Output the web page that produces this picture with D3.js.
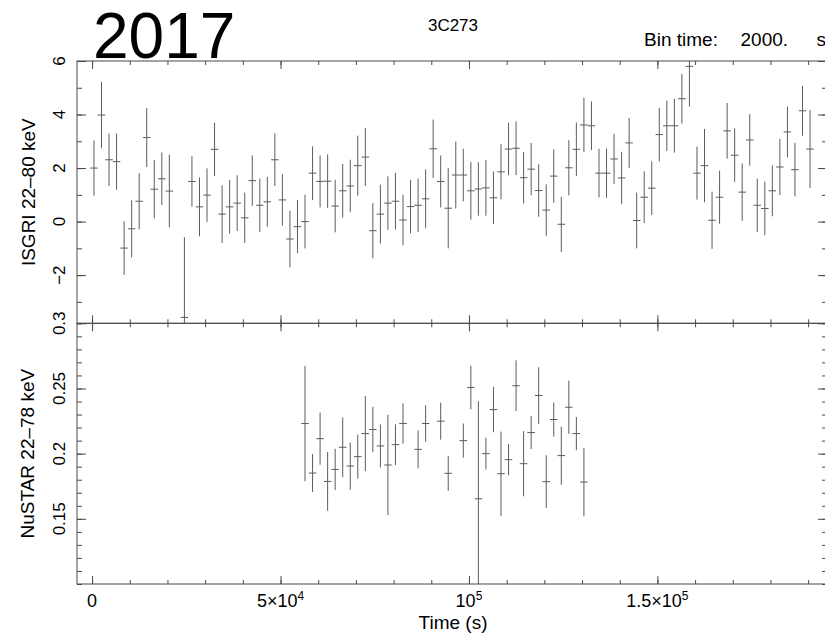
<!DOCTYPE html>
<html>
<head>
<meta charset="utf-8">
<script src="https://cdn.jsdelivr.net/npm/d3@7"></script>
<style>
  body { margin: 0; background: #fff; }
  text { font-family: "Liberation Sans", Arial, Helvetica, sans-serif; fill: #000; }
</style>
</head>
<body>
<svg id="chart" width="825" height="633"></svg>
<script>
    // ============ DATA (2000 s bins) ===========================================
    var isgriTime = [500, 2500, 4500, 6500, 8500, 10500, 12500, 14500, 16500, 18500, 20500,
        24500, 26500, 28500, 30500, 32500, 34500, 36500, 38500, 40500, 42500, 44500, 46500, 48500,
        50500, 52500, 54500, 56500, 58500, 60500, 62500, 64500, 66500, 68500, 70500, 72500, 74500,
        76500, 78500, 80500, 82500, 84500, 86500, 88500, 90500, 92500, 94500, 96500, 98500, 100500,
        102500, 104500, 106500, 108500, 110500, 112500, 114500, 116500, 118500, 120500, 122500,
        124500, 126500, 128500, 130500, 132500, 134500, 136500, 138500, 140500, 142500, 144500,
        146500, 148500, 150500, 152500, 154500, 156500, 158500, 160500, 162500, 164500, 166500,
        168500, 170500, 172500, 174500, 176500, 178500, 180500, 182500, 184500, 186500, 188500, 190500];
    var isgriRate = [2.0, 3.98, 2.31, 2.24, -0.99, -0.27, 0.76, 3.14, 1.21, 1.6, 1.14,
        -3.58, 1.5, 0.55, 0.99, 2.7, 0.28, 0.55, 0.69, 0.14, 1.53, 0.61, 0.74, 2.31,
        0.81, -0.65, -0.19, 0.0, 1.81, 1.5, 1.51, 0.58, 1.15, 1.33, 2.09, 2.41, -0.34,
        0.28, 0.69, 0.76, 0.06, 0.56, 0.61, 0.85, 2.72, 1.5, 0.5, 1.74, 1.74, 1.15,
        1.22, 1.26, 0.89, 1.86, 2.71, 2.74, 1.64, 1.96, 1.16, 0.43, 1.7,
        -0.1, 2.01, 2.7, 3.61, 3.58, 1.81, 1.81, 2.34, 1.63, 2.94, 0.04,
        0.91, 1.25, 3.25, 3.58, 3.58, 4.59, 5.8, 1.81, 2.09, 0.05, 0.91,
        3.39, 2.48, 1.1, 3.05, 0.61, 0.49, 1.15, 2.04, 3.35, 1.94, 4.14, 2.71];
    var isgriErr = [1.03, 1.24, 0.98, 1.05, 1.0, 1.07, 1.05, 1.1, 1.09, 0.98, 1.36,
        3.0, 0.94, 1.1, 1.0, 1.0, 1.08, 1.0, 1.04, 0.94, 0.94, 1.0, 0.93, 0.98,
        0.96, 1.06, 0.99, 1.0, 1.0, 0.97, 1.0, 0.98, 1.0, 0.98, 1.12, 1.08, 1.03,
        1.1, 1.0, 1.06, 0.94, 1.0, 1.0, 1.1, 1.09, 0.97, 1.5, 1.25, 0.98, 1.08,
        1.0, 1.04, 0.98, 1.03, 0.98, 1.0, 0.96, 0.98, 0.98, 0.96, 1.0,
        1.03, 1.03, 1.0, 1.02, 0.91, 0.91, 0.92, 0.93, 0.98, 0.93, 1.04,
        0.97, 1.0, 1.0, 0.94, 1.0, 0.93, 1.5, 0.99, 1.37, 1.07, 0.99,
        1.04, 1.0, 1.07, 0.96, 1.0, 1.0, 0.95, 1.05, 0.95, 1.0, 0.93, 1.46];

    var nustarTime = [56500, 58500, 60500, 62500, 64500, 66500, 68500, 70500, 72500, 74500,
        76500, 78500, 80500, 82500, 86500, 88500, 92500, 94500, 98500, 100500, 102500, 104500,
        106500, 108500, 110500, 112500, 114500, 116500, 118500, 120500, 122500, 124500, 126500,
        128500, 130500];
    var nustarRate = [0.2231, 0.1851, 0.2115, 0.1787, 0.1879, 0.2049, 0.1905, 0.1977, 0.2154,
        0.2185, 0.2059, 0.1913, 0.2069, 0.2231, 0.2033, 0.2231, 0.2249, 0.1849, 0.21, 0.2508,
        0.1654, 0.2, 0.2338, 0.1846, 0.1954, 0.2521, 0.1923, 0.2162, 0.2446, 0.1785, 0.2262,
        0.1985, 0.2356, 0.2154, 0.1782];
    var nustarErr = [0.0442, 0.0145, 0.02, 0.0226, 0.0158, 0.0229, 0.0181, 0.0169, 0.0288,
        0.0174, 0.0165, 0.0385, 0.0156, 0.0154, 0.0146, 0.014, 0.0142, 0.0133, 0.0131, 0.0167,
        0.0749, 0.0122, 0.0174, 0.0323, 0.012, 0.0195, 0.025, 0.0127, 0.0217, 0.0203, 0.0131,
        0.0223, 0.0204, 0.0127, 0.0263];

    var binHalf = 1000;
    var xMajor = [0, 50000, 100000, 150000];
    var xMinor = d3.range(0, 195000, 10000);
    var isgriMajor = [-2, 0, 2, 4, 6];
    var isgriMinor = [-3, -2, -1, 0, 1, 2, 3, 4, 5, 6];
    var nustarMajor = [0.15, 0.2, 0.25, 0.3];
    var nustarMinor = d3.range(0.1, 0.3001, 0.01);
    var xLabels = [["0", ""], ["5×10", "4"], ["10", "5"], ["1.5×10", "5"]];

    // ============ LAYOUT =================
    // (don't call it "top" -- window.top is read-only)
    var pLeft = 77, pRight = 827, pTop = 61, pMid = 323.3, pBottom = 584;
    var svg = d3.select("#chart");
    var ink = "#4a4a4a";
    var barColor = "#5c5c5c";

    var x = d3.scaleLinear().domain([-4000, 195000]).range([pLeft, pRight]);
    var yTop = d3.scaleLinear().domain([-3.8, 6]).range([pMid, pTop]);
    var yBot = d3.scaleLinear().domain([0.1, 0.3]).range([pBottom, pMid]);

    function makeClip(id, y0, y1) {
        svg.append("clipPath").attr("id", id)
            .append("rect")
            .attr("x", pLeft).attr("y", y0)
            .attr("width", pRight - pLeft).attr("height", y1 - y0);
    }
    makeClip("clipTop", pTop, pMid);
    makeClip("clipBot", pMid, pBottom);

    function drawErrors(times, rates, errs, y, clipId) {
        var data = times.map(function (t, i) { return { t: t, r: rates[i], e: errs[i] }; });
        var g = svg.append("g").attr("clip-path", "url(#" + clipId + ")")
            .attr("stroke", barColor).attr("stroke-width", 1).attr("fill", "none");
        g.selectAll(".vbar").data(data).enter().append("line")
            .attr("x1", function (d) { return x(d.t); })
            .attr("x2", function (d) { return x(d.t); })
            .attr("y1", function (d) { return y(d.r - d.e); })
            .attr("y2", function (d) { return y(d.r + d.e); });
        g.selectAll(".hbar").data(data).enter().append("line")
            .attr("x1", function (d) { return x(d.t - binHalf); })
            .attr("x2", function (d) { return x(d.t + binHalf); })
            .attr("y1", function (d) { return y(d.r); })
            .attr("y2", function (d) { return y(d.r); });
    }
    drawErrors(isgriTime, isgriRate, isgriErr, yTop, "clipTop");
    drawErrors(nustarTime, nustarRate, nustarErr, yBot, "clipBot");

    // ticks, all pointing into the panels
    function tickAxis(axis, values, size, tx, ty) {
        var g = svg.append("g")
            .attr("transform", "translate(" + tx + "," + ty + ")")
            .call(axis.tickValues(values).tickSize(size).tickFormat(""));
        g.select(".domain").remove();
        g.selectAll("line").attr("stroke", ink);
    }
    [[pTop, pMid], [pMid, pBottom]].forEach(function (p) {
        tickAxis(d3.axisTop(x), xMajor, -8, 0, p[0]);
        tickAxis(d3.axisTop(x), xMinor, -4, 0, p[0]);
        tickAxis(d3.axisBottom(x), xMajor, -8, 0, p[1]);
        tickAxis(d3.axisBottom(x), xMinor, -4, 0, p[1]);
    });
    tickAxis(d3.axisLeft(yTop), isgriMajor, -9, pLeft, 0);
    tickAxis(d3.axisLeft(yTop), isgriMinor, -5, pLeft, 0);
    tickAxis(d3.axisRight(yTop), isgriMajor, -9, pRight, 0);
    tickAxis(d3.axisRight(yTop), isgriMinor, -5, pRight, 0);
    tickAxis(d3.axisLeft(yBot), nustarMajor, -9, pLeft, 0);
    tickAxis(d3.axisLeft(yBot), nustarMinor, -5, pLeft, 0);
    tickAxis(d3.axisRight(yBot), nustarMajor, -9, pRight, 0);
    tickAxis(d3.axisRight(yBot), nustarMinor, -5, pRight, 0);

    // frames
    [[pTop, pMid], [pMid, pBottom]].forEach(function (p) {
        svg.append("rect")
            .attr("x", pLeft).attr("y", p[0])
            .attr("width", pRight - pLeft).attr("height", p[1] - p[0])
            .attr("fill", "none").attr("stroke", ink).attr("stroke-width", 1);
    });

    // y tick labels (rotated, PGPLOT style)
    function yLabels(values, y, fmt) {
        svg.selectAll(null).data(values).enter().append("text")
            .attr("transform", function (d) { return "translate(65," + y(d) + ") rotate(-90)"; })
            .attr("text-anchor", "middle")
            .style("font-size", "17px")
            .text(fmt);
    }
    yLabels(isgriMajor, yTop, function (d) { return d < 0 ? "\u2212" + Math.abs(d) : d; });
    yLabels(nustarMajor, yBot, function (d) { return d3.format(".3~f")(d); });

    // x tick labels with superscripts
    var xl = svg.selectAll(null).data(xMajor).enter().append("text")
        .attr("x", function (d) { return x(d); })
        .attr("y", 607)
        .attr("text-anchor", "middle")
        .style("font-size", "18px");
    xl.append("tspan").text(function (d, i) { return xLabels[i][0]; });
    xl.append("tspan").attr("dy", -7).style("font-size", "12px")
        .text(function (d, i) { return xLabels[i][1]; });

    // axis titles
    svg.append("text").attr("x", (pLeft + pRight) / 2 + 1).attr("y", 629)
        .attr("text-anchor", "middle").style("font-size", "19px").text("Time (s)");
    svg.append("text").attr("transform", "translate(35," + (pTop + pMid) / 2 + ") rotate(-90)")
        .attr("text-anchor", "middle").style("font-size", "19px").text("ISGRI 22\u201380 keV");
    svg.append("text").attr("transform", "translate(34," + (pMid + pBottom) / 2 + ") rotate(-90)")
        .attr("text-anchor", "middle").style("font-size", "19px").text("NuSTAR 22\u201378 keV");

    // header
    svg.append("text").attr("x", 93).attr("y", 58).style("font-size", "64px").text("2017");
    svg.append("text").attr("x", 453).attr("y", 31).attr("text-anchor", "middle")
        .style("font-size", "17px").text("3C273");
    svg.append("text").attr("x", 644).attr("y", 45.7).style("font-size", "19px").text("Bin time:");
    svg.append("text").attr("x", 740.5).attr("y", 45.7).style("font-size", "19px").text("2000.");
    svg.append("text").attr("x", 816.5).attr("y", 45.7).style("font-size", "19px").text("s");
</script>
</body>
</html>
